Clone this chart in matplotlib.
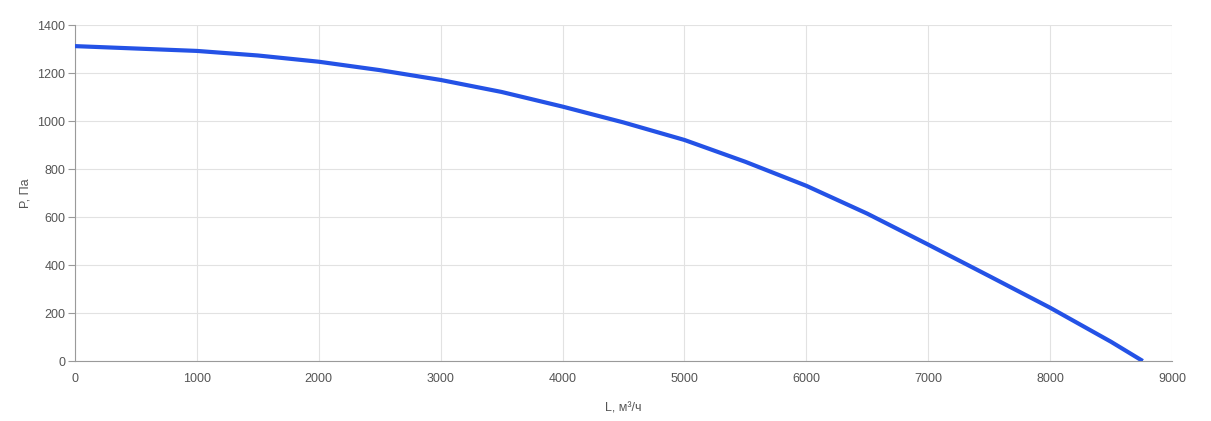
import matplotlib
matplotlib.use("Agg")
import matplotlib.pyplot as plt

# fan curve: airflow (m3/h) vs pressure (Pa)
flow = [0, 500, 1000, 1500, 2000, 2500, 3000, 3500, 4000, 4500, 5000,
        5500, 6000, 6500, 7000, 7500, 8000, 8500, 8760]
pressure = [1312, 1302, 1292, 1273, 1247, 1212, 1171, 1121, 1060, 994, 921,
            830, 730, 614, 485, 354, 222, 80, 0]

x_ticks = [0, 1000, 2000, 3000, 4000, 5000, 6000, 7000, 8000, 9000]
y_ticks = [0, 200, 400, 600, 800, 1000, 1200, 1400]

plt.rcParams['font.family'] = ['Liberation Sans', 'DejaVu Sans']

fig = plt.figure(figsize=(12.11, 4.21), dpi=100)
ax = fig.add_axes([75 / 1211, 60 / 421, 1097 / 1211, 336 / 421])

ax.plot(flow, pressure, color='#2452e6', linewidth=3.0, solid_capstyle='butt',
        solid_joinstyle='round', zorder=3)

ax.set_xlim(0, 9000)
ax.set_ylim(0, 1400)
ax.set_xticks(x_ticks)
ax.set_yticks(y_ticks)
ax.grid(True, color='#e2e2e2', linewidth=0.8)
ax.set_axisbelow(True)

for s in ['top', 'right']:
    ax.spines[s].set_visible(False)
for s in ['left', 'bottom']:
    ax.spines[s].set_color('#9a9a9a')
    ax.spines[s].set_linewidth(0.8)

ax.tick_params(axis='x', length=0, pad=9, labelsize=9, labelcolor='#555555')
ax.tick_params(axis='y', length=5, width=0.8, color='#9a9a9a', pad=2, labelsize=9, labelcolor='#555555')

ax.set_xlabel('L, м³/ч', fontsize=9, color='#555555', labelpad=12)
ax.set_ylabel('P, Па', fontsize=9, color='#555555', labelpad=4)

fig.savefig('out.png', dpi=100, facecolor='white')
